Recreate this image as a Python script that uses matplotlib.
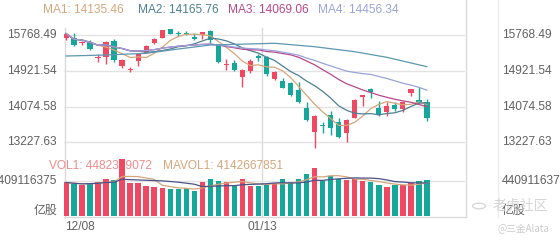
import matplotlib
matplotlib.use("Agg")
import matplotlib.pyplot as plt
import numpy as np
import pandas as pd
from matplotlib.lines import Line2D
from matplotlib.patches import Circle
from matplotlib.transforms import blended_transform_factory

plt.rcParams['font.family'] = ['Liberation Sans', 'Noto Sans CJK SC', 'DejaVu Sans']

# ---------------- data ----------------
opens = [15704.4, 15697.3, 15592.9, 15609.5, 15230.0, 15265.5, 15638.0, 15040.1, 14945.2, 15170.6,
         15360.4, 15578.7, 15716.3, 15910.8, 15834.9, 15816.0, 15740.0, 15768.5, 15870.5, 15538.4,
         15063.8, 15111.3, 14767.3, 14921.5, 15289.2, 15265.5, 14724.6, 14684.3, 14629.7, 14470.7,
         14036.6, 13481.3, 13640.4, 13877.6, 13718.6, 13443.6, 13813.6, 14304.6, 14487.3, 14036.6,
         13956.0, 14114.9, 14020.1, 14392.5, 14233.5, 14193.1]
closes = [15811.2, 15538.4, 15616.7, 15443.5, 15253.7, 15597.7, 15189.6, 15182.5, 14980.8, 15332.0,
          15526.5, 15680.7, 15882.4, 15811.2, 15792.2, 15799.4, 15675.9, 15846.8, 15661.7, 15127.9,
          15087.6, 14945.2, 14945.2, 15146.9, 15218.1, 14838.5, 14904.9, 14525.3, 14352.1, 14178.9,
          13759.0, 13860.9, 13609.3, 13561.9, 13362.8, 13759.0, 14233.5, 14352.1, 14430.4, 13877.6,
          14091.2, 14020.1, 14178.9, 14487.3, 14169.4, 13799.2]
highs = [15816.0, 15816.0, 15640.4, 15657.0, 15324.8, 15633.2, 15673.6, 15199.1, 15023.6, 15341.5,
         15538.4, 15711.6, 15894.2, 15925.1, 15870.5, 15877.6, 15816.0, 15858.6, 15894.2, 15562.1,
         15194.4, 15182.5, 14980.8, 15194.4, 15336.7, 15284.5, 14921.5, 14748.3, 14667.6, 14653.4,
         14178.9, 13877.6, 13718.6, 13972.5, 13799.2, 13782.7, 14257.2, 14352.1, 14525.3, 14209.8,
         14193.1, 14178.9, 14209.8, 14494.5, 14549.0, 14257.2]
lows = [15657.0, 15521.7, 15538.4, 15419.7, 15142.2, 15080.4, 15142.2, 14985.6, 14904.9, 15040.1,
        15341.5, 15554.9, 15704.4, 15792.2, 15763.7, 15775.6, 15657.0, 15673.6, 15578.7, 15111.3,
        14933.4, 14921.5, 14549.0, 14867.0, 15158.8, 14802.9, 14708.0, 14511.1, 14335.5, 14155.2,
        13735.3, 13101.8, 13443.6, 13403.1, 13324.8, 13244.2, 13799.2, 14098.3, 14273.9, 13860.9,
        13860.9, 13972.5, 13941.6, 14335.5, 14155.2, 13735.3]
# volume in 亿股 (1e8 shares)
volumes_yi = [42.2, 40.3, 39.0, 41.5, 43.1, 46.9, 45.0, 72.4, 41.8, 41.9,
              38.2, 36.5, 35.2, 33.5, 34.3, 34.8, 31.8, 42.2, 46.6, 44.5,
              42.2, 37.4, 46.6, 38.1, 38.1, 39.0, 41.2, 46.2, 42.4, 46.2,
              52.6, 60.2, 44.5, 50.1, 46.2, 45.4, 46.2, 43.7, 42.6, 39.0,
              36.8, 38.8, 39.0, 41.0, 44.5, 44.82339072]

# long moving average line
long_ma_idx = [0, 5, 10, 14, 18, 26, 31, 36, 40, 45]
long_ma_vals = [15277, 15301, 15341, 15443, 15538, 15579, 15498, 15379, 15246, 15024]

ma_windows = [5, 10, 20, 30]
ma_names = ["MA1", "MA2", "MA3", "MA4"]
ma_last = ["14135.46", "14165.76", "14069.06", "14456.34"]
vol_ma_windows = [5, 10]
vol_last = "4482339072"
mavol_last = "4142667851"

price_ticks = [15768.49, 14921.54, 14074.58, 13227.63]
vol_tick = 4409116375
date_labels = ["12/08", "01/13"]
date_pos = [-0.5, 24.5]

# ---------------- style ----------------
RED = "#EF4863"
GREEN = "#14A79A"
MA_COLORS = ["#D5A67B", "#4D8095", "#B8488A", "#9AA3DA"]
LONG_COLOR = "#5E97B0"
VOL_MA_COLORS = ["#D5A67B", "#4A5288"]
GRID = "#E3E3E3"
TXT = "#606060"

W, H = 560, 240
fig = plt.figure(figsize=(W / 100, H / 100), dpi=100)


def rect(l, t, r, b):
    return [l / W, 1 - b / H, (r - l) / W, (b - t) / H]


ax = fig.add_axes(rect(64, 28, 465, 150))
axv = fig.add_axes(rect(64, 155, 465, 216))
for a in (ax, axv):
    a.set_facecolor("none")
    for s in a.spines.values():
        s.set_visible(False)
    a.set_xticks([])
    a.set_yticks([])
    a.set_xlim(-0.25, 49.75)

n = len(closes)
x = np.arange(n)
o = np.array(opens); c = np.array(closes); hi = np.array(highs); lo = np.array(lows)
up = c >= o
cols = [RED if u else GREEN for u in up]

ax.set_ylim(13047.2, 15941.7)
min_body = 20
ax.vlines(x, lo, hi, colors=cols, lw=1, zorder=2)
body_h = np.maximum(np.abs(c - o), min_body)
ax.bar(x, body_h, bottom=np.minimum(o, c), width=0.66, color=cols, lw=0, zorder=3)

cs = pd.Series(closes)
for w, col in zip(ma_windows, MA_COLORS):
    ax.plot(x, cs.rolling(w, min_periods=1).mean(), color=col, lw=0.9, zorder=4)
ax.plot(long_ma_idx, long_ma_vals, color=LONG_COLOR, lw=0.9, zorder=4)

for v in price_ticks:
    ax.axhline(v, color=GRID, lw=1, zorder=0)

tr = blended_transform_factory(ax.transAxes, ax.transData)
for v in price_ticks:
    ax.text(-7 / 401, v, f"{v:.2f}", transform=tr, ha="right", va="center", fontsize=8.6, color=TXT)
    ax.text(438 / 401, v, f"{v:.2f}", transform=tr, ha="left", va="center", fontsize=8.6, color=TXT)

# legend texts
leg_x = [43, 138, 228, 318]
for lx, nm, val, col in zip(leg_x, ma_names, ma_last, MA_COLORS):
    fig.text(lx / W, 1 - 10 / H, f"{nm}: {val}", ha="left", va="center", fontsize=8.6, color=col)

# volume panel
vol = np.array(volumes_yi) * 1e8
axv.set_ylim(0, 7.684e9)
axv.axhline(vol_tick, color=GRID, lw=1, zorder=0)
axv.bar(x, vol, width=0.68, color=cols, lw=0, zorder=3)
vs = pd.Series(vol)
for w, col in zip(vol_ma_windows, VOL_MA_COLORS):
    axv.plot(x, vs.rolling(w, min_periods=1).mean(), color=col, lw=0.9, zorder=4)

trv = blended_transform_factory(axv.transAxes, axv.transData)
axv.text(-7 / 401, vol_tick, f"{vol_tick}", transform=trv, ha="right", va="center", fontsize=8.6, color=TXT)
axv.text(438 / 401, vol_tick, f"{vol_tick}", transform=trv, ha="left", va="center", fontsize=8.6, color=TXT)
axv.text((49.3 - 64) / 401, (216 - 165.7) / 61, f"VOL1: {vol_last}", transform=axv.transAxes,
         ha="left", va="center", fontsize=8.6, color="#EE8C8C", zorder=1)
axv.text((162.7 - 64) / 401, (216 - 165.7) / 61, f"MAVOL1: {mavol_last}", transform=axv.transAxes,
         ha="left", va="center", fontsize=8.6, color="#D5A67B", zorder=1)

fig.text(57 / W, 1 - 210 / H, "亿股", ha="right", va="center", fontsize=8.6, color=TXT,
         family=["Noto Sans CJK SC", "DejaVu Sans"])
fig.text(502 / W, 1 - 210 / H, "亿股", ha="left", va="center", fontsize=8.6, color=TXT,
         family=["Noto Sans CJK SC", "DejaVu Sans"])

# date labels
trx = blended_transform_factory(axv.transData, fig.transFigure)
fig.text(65 / W, 1 - 227 / H, date_labels[0], ha="left", va="center", fontsize=8.6, color=TXT)
axv.text(date_pos[1], 1 - 227 / H, date_labels[1], transform=trx, ha="center", va="center",
         fontsize=8.6, color=TXT, clip_on=False)

# frame lines
def fline(x0, y0, x1, y1, col="#DADADA", lw=1):
    fig.add_artist(Line2D([x0 / W, x1 / W], [1 - y0 / H, 1 - y1 / H], transform=fig.transFigure,
                          color=col, lw=lw, zorder=-1))

fline(64.5, 28, 64.5, 216.5)
xg = ax.transData.transform((date_pos[1], 0))[0]
fline(xg, 28, xg, 216.5)
fline(465.5, 0, 465.5, 216.5)
fline(497.5, 0, 497.5, 216.5, col="#EDEDED")
fline(64, 216.5, 465.5, 216.5)

# watermark
fig.add_artist(Circle((479 / W, 1 - 206 / H), 6.5 / W, transform=fig.transFigure, fill=False,
                      ec="#D8D8D8", lw=1, zorder=5))
fig.text(493 / W, 1 - 206 / H, "老虎社区", ha="left", va="center", fontsize=10, color="#D5D5D5",
         family=["Noto Sans CJK SC", "DejaVu Sans"], zorder=5)
fig.text(497 / W, 1 - 228 / H, "@三金Alata", ha="left", va="center", fontsize=7, color="#CCCCCC",
         family=["Noto Sans CJK SC", "DejaVu Sans"], zorder=5)

fig.savefig("out.png", dpi=100)
